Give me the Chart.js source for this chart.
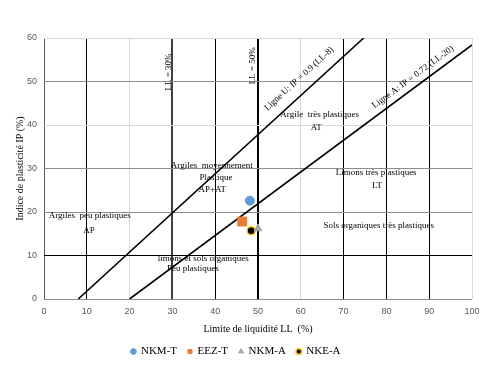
<!DOCTYPE html>
<html>
<head>
<meta charset="utf-8">
<script src="https://cdn.jsdelivr.net/npm/chart.js@4.4.1/dist/chart.umd.min.js"></script>
<style>
  html, body { margin: 0; padding: 0; background: #fff; }
  #wrap { width: 489px; height: 367px; }
</style>
</head>
<body>
<div id="wrap"><canvas id="casagrande"></canvas></div>
<script>
// samples (LL %, IP %)
const sampleNames = ['NKM-T', 'EEZ-T', 'NKM-A', 'NKE-A'];
const sampleLL = [48.1, 46.3, 50.0, 48.4];
const sampleIP = [22.6, 17.8, 16.2, 15.7];

// Casagrande reference lines, end points
const lineU_LL = [8, 74.7];
const lineU_IP = [0, 60];
const lineA_LL = [20, 100];
const lineA_IP = [0, 58.4];

const xTicks = [0, 10, 20, 30, 40, 50, 60, 70, 80, 90, 100];
const yTicks = [0, 10, 20, 30, 40, 50, 60];

const serif = '"Liberation Serif", "DejaVu Serif", serif';

const zoneLabels = [
    { t: 'Argiles  peu plastiques', x: 10.7, y: 19.2 },
    { t: 'AP', x: 10.5, y: 15.6 },
    { t: 'Argiles  moyennement', x: 39.2, y: 30.6 },
    { t: 'Plastique', x: 40.2, y: 27.9 },
    { t: 'AP+AT', x: 39.3, y: 25.1 },
    { t: 'Argile  très plastiques', x: 64.4, y: 42.4 },
    { t: 'AT', x: 63.6, y: 39.3 },
    { t: 'Limons très plastiques', x: 77.6, y: 29.1 },
    { t: 'LT', x: 77.8, y: 26.1 },
    { t: 'Sols organiques très plastiques', x: 78.2, y: 16.9 },
    { t: 'limons et sols organiques', x: 37.2, y: 9.3 },
    { t: 'Peu plastiques', x: 34.8, y: 6.9 }
];
const rotLabels = [
    { t: 'LL = 30%', x: 29.1, y: 52.2, a: -Math.PI / 2 },
    { t: 'LL = 50%', x: 48.8, y: 53.6, a: -Math.PI / 2 },
    { t: 'Ligne U: IP = 0.9 (LL-8)', x: 59.6, y: 50.6, a: 'U' },
    { t: 'Ligne A: IP = 0.72 (LL-20)', x: 86.2, y: 51.0, a: 'A' }
];

const annotate = {
    id: 'annotate',
    afterDatasetsDraw(chart) {
        const { ctx, scales: { x, y } } = chart;
        ctx.save();
        ctx.fillStyle = '#000';
        ctx.font = '9px ' + serif;
        ctx.textAlign = 'center';
        ctx.textBaseline = 'middle';
        zoneLabels.forEach(l => {
            ctx.fillText(l.t, x.getPixelForValue(l.x), y.getPixelForValue(l.y));
        });
        rotLabels.forEach(l => {
            let ang = l.a;
            if (ang === 'U' || ang === 'A') {
                const xs = ang === 'U' ? lineU_LL : lineA_LL;
                const ys = ang === 'U' ? lineU_IP : lineA_IP;
                const dx = x.getPixelForValue(xs[1]) - x.getPixelForValue(xs[0]);
                const dy = y.getPixelForValue(ys[1]) - y.getPixelForValue(ys[0]);
                ang = Math.atan2(dy, dx);
            }
            ctx.save();
            ctx.translate(x.getPixelForValue(l.x), y.getPixelForValue(l.y));
            ctx.rotate(ang);
            ctx.fillText(l.t, 0, 0);
            ctx.restore();
        });
        ctx.restore();
    }
};

function xGrid(v) {
    if (v === 30) return { c: '#404040', w: 2 };
    if (v === 50) return { c: '#000', w: 2 };
    if ([10, 40, 70, 80, 90].includes(v)) return { c: '#000', w: 1 };
    if (v === 0) return { c: '#595959', w: 1 };
    return { c: '#d9d9d9', w: 1 };
}
function yGrid(v) {
    if (v === 10) return { c: '#000', w: 1 };
    if ([0, 20, 30, 50].includes(v)) return { c: '#8c8c8c', w: 1 };
    return { c: '#d9d9d9', w: 1 };
}

const toPts = (xs, ys) => xs.map((v, i) => ({ x: v, y: ys[i] }));

const sampleStyles = [
    { pointStyle: 'circle', backgroundColor: '#5b9bd5', borderColor: '#5b9bd5', radius: 4.5, borderWidth: 1 },
    { pointStyle: 'rect', backgroundColor: '#ed7d31', borderColor: '#ed7d31', radius: 6.3, borderWidth: 1 },
    { pointStyle: 'triangle', backgroundColor: '#a5a5a5', borderColor: '#a5a5a5', radius: 4.5, borderWidth: 1 },
    { pointStyle: 'circle', backgroundColor: '#000', borderColor: '#ffc000', radius: 4, borderWidth: 1.5 }
];

const datasets = sampleNames.map((name, i) => ({
    type: 'scatter',
    label: name,
    data: [{ x: sampleLL[i], y: sampleIP[i] }],
    pointStyle: sampleStyles[i].pointStyle,
    backgroundColor: sampleStyles[i].backgroundColor,
    borderColor: sampleStyles[i].borderColor,
    pointRadius: sampleStyles[i].radius,
    pointBorderWidth: sampleStyles[i].borderWidth,
    order: 0
}));

datasets.push({
    type: 'line', label: 'U', data: toPts(lineU_LL, lineU_IP),
    borderColor: '#000', borderWidth: 1.6, pointRadius: 0, fill: false, order: 1
});
datasets.push({
    type: 'line', label: 'A', data: toPts(lineA_LL, lineA_IP),
    borderColor: '#000', borderWidth: 1.6, pointRadius: 0, fill: false, order: 1
});

new Chart(document.getElementById('casagrande'), {
    type: 'scatter',
    data: { datasets: datasets },
    options: {
        responsive: true,
        maintainAspectRatio: false,
        animation: false,
        layout: { padding: { left: 0, right: 17, top: 38, bottom: 0 } },
        plugins: {
            legend: {
                position: 'bottom',
                labels: {
                    filter: item => sampleNames.includes(item.text),
                    usePointStyle: true,
                    boxWidth: 4,
                    boxHeight: 4,
                    padding: 11,
                    color: '#000',
                    font: { family: serif, size: 11 }
                }
            },
            tooltip: { enabled: false }
        },
        scales: {
            x: {
                type: 'linear',
                min: 0, max: 100,
                afterBuildTicks: s => { s.ticks = xTicks.map(v => ({ value: v })); },
                afterFit: s => { s.height = 36; },
                grid: {
                    color: c => xGrid(c.tick.value).c,
                    lineWidth: c => xGrid(c.tick.value).w,
                    drawTicks: false
                },
                border: { display: false },
                ticks: { color: '#595959', font: { family: '"Liberation Sans", sans-serif', size: 9 }, padding: 7 },
                title: {
                    display: true,
                    text: 'Limite de liquidité LL  (%)',
                    color: '#000',
                    font: { family: serif, size: 10 },
                    padding: { top: 4, bottom: 0 }
                }
            },
            y: {
                type: 'linear',
                min: 0, max: 60,
                afterBuildTicks: s => { s.ticks = yTicks.map(v => ({ value: v })); },
                afterFit: s => { s.width = 44; },
                grid: {
                    color: c => yGrid(c.tick.value).c,
                    lineWidth: c => yGrid(c.tick.value).w,
                    drawTicks: false
                },
                border: { display: false },
                ticks: { color: '#595959', font: { family: '"Liberation Sans", sans-serif', size: 9 }, padding: 7 },
                title: {
                    display: true,
                    text: 'Indice de plasticité IP (%)',
                    color: '#000',
                    font: { family: serif, size: 10 },
                    padding: { top: 14, bottom: 0 }
                }
            }
        }
    },
    plugins: [annotate]
});
</script>
</body>
</html>
